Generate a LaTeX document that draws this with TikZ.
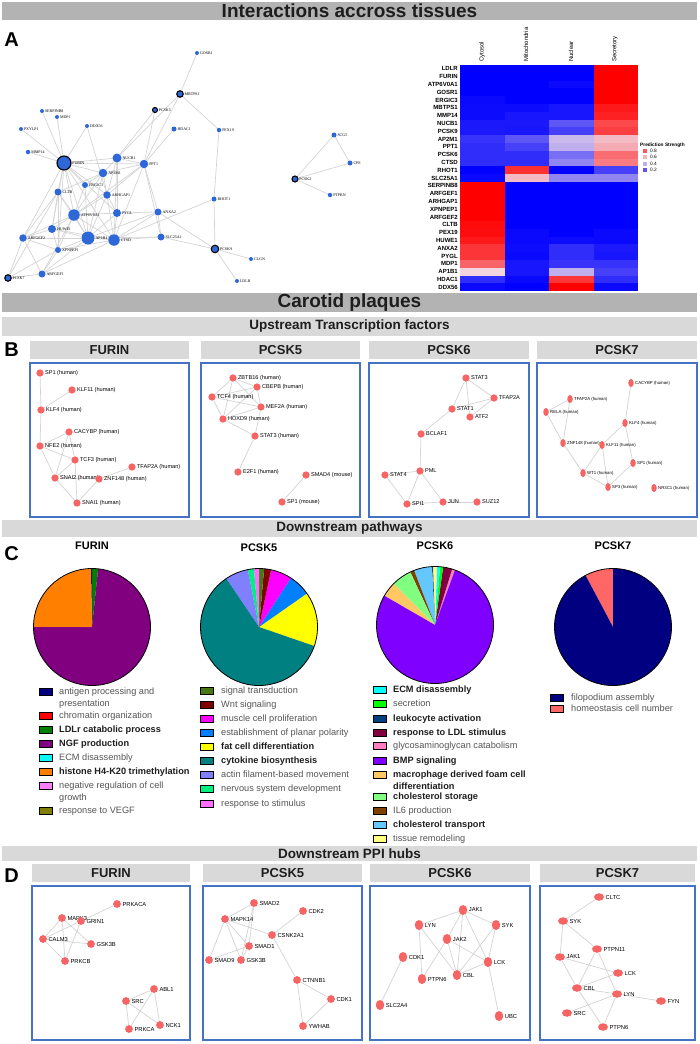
\documentclass[tikz,border=0pt]{standalone}
\usepackage{fontspec}
\setmainfont{Liberation Sans}
\newfontfamily\netserif{Liberation Serif}
\usetikzlibrary{shapes.geometric}

\pgfdeclarelayer{paper}
\pgfdeclarelayer{links}
\pgfsetlayers{paper,links,main}

\definecolor{barDark}{RGB}{179,179,179}
\definecolor{barLight}{RGB}{217,217,217}
\definecolor{titleInk}{RGB}{30,30,30}
\definecolor{boxBlue}{RGB}{68,114,196}
\definecolor{netBlue}{RGB}{46,104,214}
\definecolor{nodeRed}{RGB}{247,100,100}
\definecolor{edgeGray}{RGB}{212,212,212}
\definecolor{hmblue}{RGB}{0,0,255}
\definecolor{hmred}{RGB}{255,0,0}
\definecolor{hmmid}{RGB}{242,222,232}
\definecolor{legInk}{RGB}{85,85,85}
% pie colours
\definecolor{c1navy}{RGB}{0,0,128}
\definecolor{c1red}{RGB}{255,0,0}
\definecolor{c1green}{RGB}{0,128,0}
\definecolor{c1purple}{RGB}{128,0,128}
\definecolor{c1cyan}{RGB}{0,255,255}
\definecolor{c1orange}{RGB}{255,128,0}
\definecolor{c1violet}{RGB}{255,128,255}
\definecolor{c1olive}{RGB}{128,128,0}
\definecolor{c5sig}{RGB}{70,120,20}
\definecolor{c5wnt}{RGB}{128,0,0}
\definecolor{c5mag}{RGB}{255,0,255}
\definecolor{c5blue}{RGB}{0,128,255}
\definecolor{c5yel}{RGB}{255,255,0}
\definecolor{c5teal}{RGB}{0,128,128}
\definecolor{c5actin}{RGB}{128,128,255}
\definecolor{c5nerv}{RGB}{0,240,130}
\definecolor{c5stim}{RGB}{255,110,255}
\definecolor{c6ecm}{RGB}{0,255,255}
\definecolor{c6sec}{RGB}{0,255,0}
\definecolor{c6leuk}{RGB}{0,64,128}
\definecolor{c6ldl}{RGB}{128,0,64}
\definecolor{c6gag}{RGB}{255,128,192}
\definecolor{c6bmp}{RGB}{128,0,255}
\definecolor{c6foam}{RGB}{255,200,100}
\definecolor{c6chst}{RGB}{128,255,128}
\definecolor{c6il6}{RGB}{128,64,0}
\definecolor{c6chtr}{RGB}{100,200,255}
\definecolor{c6tis}{RGB}{255,255,128}
\definecolor{c7navy}{RGB}{0,0,128}
\definecolor{c7salmon}{RGB}{255,102,102}

\newcommand{\setfs}[1]{\fontsize{#1}{#1}\selectfont}
\newcommand{\hmshade}[1]{%
  \pgfmathtruncatemacro\hmlow{#1<0.5}%
  \ifnum\hmlow=1
    \pgfmathtruncatemacro\hmpc{200*#1}\colorlet{hmcell}{hmmid!\hmpc!hmblue}%
  \else
    \pgfmathtruncatemacro\hmpc{200*(#1-0.5)}\colorlet{hmcell}{hmred!\hmpc!hmmid}%
  \fi}

\tikzset{
  bigbar/.style={fill=barDark, inner sep=0pt, minimum width=695pt, text=titleInk, font=\bfseries\setfs{19}},
  subbar/.style={fill=barLight, inner sep=0pt, minimum width=695pt, text=titleInk, font=\bfseries\setfs{13.5}},
  panelhead/.style={fill=barLight, inner sep=0pt, minimum height=18pt, text=titleInk, font=\bfseries\setfs{13}},
  panelbox/.style={draw=boxBlue, line width=1.4pt},
  panelletter/.style={inner sep=0pt, font=\bfseries\setfs{20}},
  link/.style={draw=edgeGray, line width=0.7pt},
  anode/.style={circle, fill=netBlue, inner sep=0pt},
  ahub/.style={draw=black, line width=1.1pt},
  aplain/.style={},
  alabel/.style={inner sep=0.6pt, font=\netserif\setfs{4}},
  tfnode/.style={circle, fill=nodeRed, inner sep=0pt, minimum size=7.3pt},
  tfnarrow/.style={ellipse, fill=nodeRed, inner sep=0pt, minimum width=5.5pt, minimum height=8pt},
  tflabel/.style={inner sep=1pt, font=\setfs{5.6}},
  tfsmall/.style={inner sep=1pt, font=\setfs{4.3}},
  hubtall/.style={ellipse, fill=nodeRed, inner sep=0pt, minimum width=8.5pt, minimum height=10pt},
  hubwide/.style={ellipse, fill=nodeRed, inner sep=0pt, minimum width=10pt, minimum height=7.5pt},
  hublabel/.style={inner sep=1.2pt, font=\setfs{5.8}},
  hmrow/.style={anchor=east, inner sep=0pt, font=\bfseries\setfs{6}},
  pietitle/.style={inner sep=0pt, font=\bfseries\setfs{11}},
  pieline/.style={draw=black, line width=0.8pt},
  legsq/.style={draw=black, line width=0.6pt, minimum width=13pt, minimum height=7pt, inner sep=0pt},
  legtext/.style={anchor=north west, inner sep=0pt, align=left, text=legInk, font=\fontsize{9.2}{11.5}\selectfont},
  legn/.style={},
  legb/.style={text=titleInk, font=\bfseries\fontsize{9.2}{11.5}\selectfont}
}

\begin{document}
\begin{tikzpicture}[x=1pt,y=-1pt]
\begin{pgfonlayer}{paper}
  \fill[white] (0,0) rectangle (699,1044);
\end{pgfonlayer}
\useasboundingbox (0,0) rectangle (699,1044);

% title bars
\node[bigbar, minimum height=18pt] (barA) at (349.5,11) {Interactions accross tissues};
\node[bigbar, minimum height=19pt] (barB) at (349.5,302.5) {Carotid plaques};
\node[subbar, minimum height=19pt] (barTF) at (349.5,326.5) {Upstream Transcription factors};
\node[subbar, minimum height=17pt] (barPW) at (349.5,528.5) {Downstream pathways};
\node[subbar, minimum height=15pt] (barPPI) at (349.5,853.5) {Downstream PPI hubs};

\node[panelletter] (letA) at (11.5,39.5) {A};
\node[panelletter] (letB) at (11.5,350) {B};
\node[panelletter] (letC) at (11.5,554) {C};
\node[panelletter] (letD) at (11.5,876) {D};

% A: network
\foreach \n/\x/\y/\s/\st in {GOSR1/197/53/4/aplain, MBTPS1/180/94/6.5/ahub, PCSK5/155/110/5/ahub,
    SERPINB8/42/111/4/aplain, MDP1/57/117/4/aplain, PXYLP1/21/129/4/aplain, DDX56/87/126/4/aplain,
    HDAC1/174/129/5/aplain, PEX19/219/130/4.5/aplain, MMP14/28/152/4.5/aplain, FURIN/64/163/14/ahub,
    NUCB1/117/158/9/aplain, PPT1/144/164/8.5/aplain, AP2M1/103/173/8.5/aplain, ERGIC3/85/185/6/aplain,
    CLTB/58/192/7/aplain, ARHGAP1/107/195/7.5/aplain, RHOT1/214/199/5/aplain, ATP6V0A1/74/215/11.5/aplain,
    PYGL/117/213/8/aplain, ANXA2/158/212/7/aplain, HUWE1/52/229/8/aplain, ARFGEF2/23/238/7.5/aplain,
    AP1B1/88/238/13/aplain, CTSD/114/240/11.5/aplain, SLC25A1/161/237/7/aplain, PCSK9/215/249/7.5/ahub,
    XPNPEP1/58/250/6/aplain, CLGN/251/259/4/aplain, ARFGEF1/42/274/7/aplain, PCSK7/8/278/6.5/ahub,
    LDLR/237/281/4/aplain, SCG5/334/135/5/aplain, CPE/350/163/5/aplain, PCSK2/295/179/6/ahub,
    PTPRN/330/195/4.5/aplain}
  \node[anode, \st, minimum size=\s pt, label={[alabel]right:\n}] (\n) at (\x,\y) {};

\begin{pgfonlayer}{links}
\foreach \a/\b in {FURIN/SERPINB8, FURIN/MDP1, FURIN/PXYLP1, FURIN/MMP14, FURIN/DDX56, FURIN/NUCB1,
    FURIN/AP2M1, FURIN/ERGIC3, FURIN/CLTB, FURIN/ATP6V0A1, FURIN/HUWE1, FURIN/AP1B1, FURIN/CTSD,
    FURIN/ARFGEF2, FURIN/PPT1, FURIN/ARHGAP1, FURIN/PYGL, FURIN/XPNPEP1,
    MBTPS1/GOSR1, MBTPS1/PEX19, MBTPS1/NUCB1, MBTPS1/PPT1, PCSK5/NUCB1, PCSK5/PPT1, HDAC1/PPT1,
    PEX19/RHOT1, RHOT1/PCSK9, RHOT1/CTSD, PCSK9/CLGN, PCSK9/LDLR, PCSK9/SLC25A1, PCSK9/ANXA2,
    NUCB1/AP2M1, NUCB1/PPT1, NUCB1/ARHGAP1, NUCB1/PYGL, NUCB1/CTSD, PPT1/AP2M1, PPT1/ARHGAP1,
    PPT1/ANXA2, PPT1/SLC25A1, PPT1/CTSD, PPT1/ATP6V0A1, AP2M1/ERGIC3, AP2M1/CLTB, AP2M1/ATP6V0A1,
    AP2M1/AP1B1, AP2M1/ARHGAP1, ERGIC3/ATP6V0A1, ERGIC3/AP1B1, CLTB/ATP6V0A1, CLTB/HUWE1,
    CLTB/ARFGEF2, CLTB/AP1B1, CLTB/XPNPEP1, ARHGAP1/ATP6V0A1, ARHGAP1/PYGL, ARHGAP1/AP1B1,
    ARHGAP1/CTSD, ATP6V0A1/HUWE1, ATP6V0A1/AP1B1, ATP6V0A1/CTSD, ATP6V0A1/PYGL, ATP6V0A1/ARFGEF2,
    ATP6V0A1/XPNPEP1, ATP6V0A1/ARFGEF1, PYGL/ANXA2, PYGL/CTSD, PYGL/AP1B1, ANXA2/CTSD, ANXA2/SLC25A1,
    ANXA2/AP1B1, HUWE1/ARFGEF2, HUWE1/AP1B1, HUWE1/CTSD, HUWE1/XPNPEP1, ARFGEF2/AP1B1,
    ARFGEF2/ARFGEF1, ARFGEF2/PCSK7, ARFGEF2/XPNPEP1, AP1B1/CTSD, AP1B1/XPNPEP1, AP1B1/SLC25A1,
    AP1B1/ARFGEF1, CTSD/SLC25A1, CTSD/XPNPEP1, CTSD/ARFGEF1, XPNPEP1/ARFGEF1, XPNPEP1/PCSK7,
    PCSK7/ARFGEF1, PCSK7/CLTB, DDX56/ARHGAP1, SCG5/CPE, SCG5/PCSK2, PCSK2/CPE, PCSK2/PTPRN}
  \draw[link] (\a) -- (\b);
\end{pgfonlayer}

% A: heatmap
\foreach \t/\xc [count=\k] in {Cytosol/482, Mitochondria/526, Nuclear/571, Secretory/615}
  \node[rotate=90, anchor=west, inner sep=0pt, font=\setfs{6}] (hmc\k) at (\xc,62) {\t};
\foreach \g/\va/\vb/\vc/\vd [count=\r] in {LDLR/0/0/0/1, FURIN/0/0/0/1, ATP6V0A1/0/0/0.02/1,
    GOSR1/0/0/0/1, ERGIC3/0.02/0/0/1, MBTPS1/0.03/0.03/0.05/0.95, MMP14/0.03/0.05/0.05/0.93,
    NUCB1/0.06/0.06/0.2/0.84, PCSK9/0.06/0.05/0.15/0.86, AP2M1/0.12/0.2/0.42/0.58,
    PPT1/0.1/0.15/0.4/0.62, PCSK6/0.1/0.1/0.25/0.76, CTSD/0.1/0.1/0.3/0.72, RHOT1/0/0.9/0/0.15,
    SLC25A1/0.02/0.58/0.3/0.3, SERPINB8/1/0/0/0, ARFGEF1/1/0/0/0, ARHGAP1/1/0/0/0,
    XPNPEP1/1/0/0/0, ARFGEF2/1/0/0/0, CLTB/0.98/0/0/0, PEX19/0.97/0.02/0/0.02,
    HUWE1/0.95/0.02/0.03/0.02, ANXA2/0.88/0.03/0.1/0.06, PYGL/0.88/0.02/0.1/0.05,
    MDP1/0.78/0.05/0.12/0.12, AP1B1/0.52/0.05/0.4/0.15, HDAC1/0.1/0.02/0.88/0.1, DDX56/0.02/0/1/0.02} {
  \pgfmathsetmacro\hmy{65+7.8*(\r-1)}
  \node[hmrow] (hmr\r) at (458,\hmy+3.9) {\g};
  \foreach \v [count=\k] in {\va,\vb,\vc,\vd} {
    \pgfmathsetmacro\hmx{460+44.5*(\k-1)}
    \hmshade{\v}
    \fill[hmcell] (\hmx,\hmy) rectangle ++(44.6,7.9);
  }
}
\node[anchor=west, inner sep=0pt, font=\bfseries\setfs{4.8}] (hmkey) at (640,145) {Prediction Strength};
\foreach \v/\y [count=\i] in {0.8/151, 0.6/157, 0.4/164, 0.2/170} {
  \hmshade{\v}
  \node[fill=hmcell, minimum size=4pt, inner sep=0pt] (hmk\i) at (645,\y) {};
  \node[anchor=west, inner sep=0pt, font=\setfs{4.8}] (hmkt\i) at (650,\y) {\v};
}

% B: upstream transcription factors
\foreach \n/\l/\r in {FURIN/30/189, PCSK5/201/360, PCSK6/369/529, PCSK7/537/697} {
  \node[panelhead, minimum width=\r-\l] (hb\n) at ({(\l+\r)/2},350) {\n};
  \draw[panelbox] (\l,363) rectangle (\r,517);
}
\foreach \n/\x/\y/\t in {b1SP1/40/373/SP1 (human), b1KLF11/72/390/KLF11 (human), b1KLF4/41/410/KLF4 (human),
    b1CACYBP/69/432/CACYBP (human), b1NFE2/40/446/NFE2 (human), b1TCF3/75/460/TCF3 (human),
    b1TFAP2A/132/467/TFAP2A (human), b1SNAI2/55/478/SNAI2 (human), b1ZNF148/99/479/ZNF148 (human),
    b1SNAI1/77/503/SNAI1 (human),
    b2ZBTB16/233/378/ZBTB16 (human), b2CBEPB/257/387/CBEPB (human), b2TCF4/212/397/TCF4 (human),
    b2MEF2A/261/407/MEF2A (human), b2HOXD9/223/419/HOXD9 (human), b2STAT3/255/436/STAT3 (human),
    b2E2F1/238/472/E2F1 (human), b2SMAD4/306/475/SMAD4 (mouse), b2SP1/282/502/SP1 (mouse),
    b3STAT3/466/378/STAT3, b3TFAP2A/494/398/TFAP2A, b3STAT1/452/409/STAT1, b3ATF2/470/417/ATF2,
    b3BCLAF1/421/434/BCLAF1, b3PML/420/471/PML, b3STAT4/385/475/STAT4, b3SPI1/407/504/SPI1,
    b3JUN/443/502/JUN, b3SUZ12/477/502/SUZ12}
  \node[tfnode, label={[tflabel]right:\t}] (\n) at (\x,\y) {};
\foreach \n/\x/\y/\t in {b4CACYBP/631/383/CACYBP (human), b4TFAP2A/570/399/TFAP2A (human),
    b4RELA/546/412/RELA (human), b4KLF4/625/423/KLF4 (human), b4ZNF148/563/443/ZNF148 (human),
    b4KLF11/602/445/KLF11 (human), b4SP1/633/463/SP1 (human), b4WT1/583/473/WT1 (human),
    b4SP3/608/487/SP3 (human), b4NR3C1/654/488/NR3C1 (human)}
  \node[tfnarrow, label={[tfsmall]right:\t}] (\n) at (\x,\y) {};

\begin{pgfonlayer}{links}
\foreach \a/\b in {b1SP1/b1KLF4, b1KLF4/b1KLF11, b1KLF4/b1NFE2, b1NFE2/b1CACYBP, b1NFE2/b1SNAI2,
    b1NFE2/b1TCF3, b1CACYBP/b1SNAI2, b1CACYBP/b1TCF3, b1TCF3/b1SNAI2, b1TCF3/b1SNAI1,
    b1SNAI2/b1ZNF148, b1SNAI2/b1SNAI1, b1ZNF148/b1SNAI1, b1ZNF148/b1TFAP2A,
    b2ZBTB16/b2CBEPB, b2ZBTB16/b2TCF4, b2ZBTB16/b2MEF2A, b2ZBTB16/b2HOXD9, b2TCF4/b2CBEPB,
    b2TCF4/b2MEF2A, b2TCF4/b2HOXD9, b2CBEPB/b2MEF2A, b2CBEPB/b2HOXD9, b2MEF2A/b2HOXD9,
    b2HOXD9/b2STAT3, b2MEF2A/b2STAT3, b2STAT3/b2E2F1, b2SMAD4/b2SP1,
    b3STAT3/b3TFAP2A, b3STAT3/b3STAT1, b3STAT3/b3ATF2, b3STAT1/b3TFAP2A, b3ATF2/b3TFAP2A,
    b3STAT1/b3BCLAF1, b3BCLAF1/b3PML, b3PML/b3STAT4, b3PML/b3SPI1, b3PML/b3JUN, b3STAT4/b3SPI1,
    b3SPI1/b3JUN, b3JUN/b3SUZ12,
    b4CACYBP/b4KLF4, b4KLF4/b4KLF11, b4KLF4/b4SP1, b4KLF11/b4WT1, b4KLF11/b4SP3, b4WT1/b4SP3,
    b4SP3/b4SP1, b4ZNF148/b4WT1, b4TFAP2A/b4ZNF148, b4RELA/b4ZNF148, b4RELA/b4TFAP2A}
  \draw[link] (\a) -- (\b);
\end{pgfonlayer}

% C: downstream pathways
\node[pietitle] (tc1) at (92,546) {FURIN};
\node[pietitle] (tc2) at (259,548) {PCSK5};
\node[pietitle] (tc3) at (435,546) {PCSK6};
\node[pietitle] (tc4) at (613,546) {PCSK7};

\begin{scope}[shift={(92,627)}, yscale=-1]
  \foreach \a/\b/\c in {84/90/c1green, 90/91/c1navy, 91/180/c1orange, 180/444/c1purple}
    \fill[\c] (0,0) -- (\a:58.5) arc[start angle=\a, end angle=\b, radius=58.5] -- cycle;
  \draw[pieline] (0,0) circle[radius=58.5];
\end{scope}
\begin{scope}[shift={(259,627)}, yscale=-1]
  \foreach \a/\b/\c in {-19/35/c5yel, 35/57/c5blue, 57/78/c5mag, 78/85/c5wnt, 85/90/c5sig,
      90/95/c5stim, 95/101/c5nerv, 101/124/c5actin, 124/341/c5teal}
    \fill[\c] (0,0) -- (\a:58.5) arc[start angle=\a, end angle=\b, radius=58.5] -- cycle;
  \draw[pieline] (0,0) circle[radius=58.5];
\end{scope}
\begin{scope}[shift={(435,625)}, yscale=-1]
  \foreach \a/\b/\c in {70/73/c6gag, 73/82/c6ldl, 82/85/c6sec, 85/88/c6ecm, 88/92/c6tis,
      92/93/c6leuk, 93/111/c6chtr, 111/115/c6il6, 115/135/c6chst, 135/150/c6foam, 150/430/c6bmp}
    \fill[\c] (0,0) -- (\a:58.5) arc[start angle=\a, end angle=\b, radius=58.5] -- cycle;
  \draw[pieline] (0,0) circle[radius=58.5];
\end{scope}
\begin{scope}[shift={(613,627)}, yscale=-1]
  \foreach \a/\b/\c in {90/118/c7salmon, 118/450/c7navy}
    \fill[\c] (0,0) -- (\a:58.5) arc[start angle=\a, end angle=\b, radius=58.5] -- cycle;
  \draw[pieline] (0,0) circle[radius=58.5];
\end{scope}

% C: legends
\foreach \c/\y/\t/\w [count=\i] in {c1navy/692/{antigen processing and\\presentation}/legn,
    c1red/716/chromatin organization/legn, c1green/730/LDLr catabolic process/legb,
    c1purple/744/NGF production/legb, c1cyan/758/ECM disassembly/legn,
    c1orange/772/histone H4-K20 trimethylation/legb,
    c1violet/786/{negative regulation of cell\\growth}/legn, c1olive/811/response to VEGF/legn} {
  \node[legsq, fill=\c] (lg1s\i) at (45.5,\y) {};
  \node[legtext, \w] (lg1t\i) at (59,\y-3.9) {\t};
}
\foreach \c/\y/\t/\w [count=\i] in {c5sig/691/signal transduction/legn, c5wnt/705/Wnt signaling/legn,
    c5mag/719/muscle cell proliferation/legn, c5blue/733/establishment of planar polarity/legn,
    c5yel/747/fat cell differentiation/legb, c5teal/761/cytokine biosynthesis/legb,
    c5actin/775/actin filament-based movement/legn, c5nerv/789/nervous system development/legn,
    c5stim/804/response to stimulus/legn} {
  \node[legsq, fill=\c] (lg2s\i) at (206.5,\y) {};
  \node[legtext, \w] (lg2t\i) at (221,\y-3.9) {\t};
}
\foreach \c/\y/\t/\w [count=\i] in {c6ecm/690/ECM disassembly/legb, c6sec/704/secretion/legn,
    c6leuk/719/leukocyte activation/legb, c6ldl/733/response to LDL stimulus/legb,
    c6gag/746/glycosaminoglycan catabolism/legn, c6bmp/761/BMP signaling/legb,
    c6foam/775/{macrophage derived foam cell\\differentiation}/legb, c6chst/797/cholesterol storage/legb,
    c6il6/811/IL6 production/legn, c6chtr/825/cholesterol transport/legb,
    c6tis/839/tissue remodeling/legn} {
  \node[legsq, fill=\c] (lg3s\i) at (379.5,\y) {};
  \node[legtext, \w] (lg3t\i) at (393,\y-3.9) {\t};
}
\foreach \c/\y/\t/\w [count=\i] in {c7navy/698/filopodium assembly/legn,
    c7salmon/709/homeostasis cell number/legn} {
  \node[legsq, fill=\c] (lg4s\i) at (556.5,\y) {};
  \node[legtext, \w] (lg4t\i) at (571,\y-3.9) {\t};
}

% D: downstream PPI hubs
\foreach \n/\l/\r in {FURIN/32/190, PCSK5/203/362, PCSK6/370/530, PCSK7/540/695} {
  \node[panelhead, minimum width=\r-\l] (hd\n) at ({(\l+\r)/2},873) {\n};
  \draw[panelbox] (\l,886) rectangle (\r,1040);
}
\foreach \n/\x/\y/\t in {d1PRKACA/117/904/PRKACA, d1MAPK3/62/918/MAPK3, d1GRIN1/81/921/GRIN1,
    d1CALM3/43/939/CALM3, d1GSK3B/91/944/GSK3B, d1PRKCB/65/961/PRKCB, d1ABL1/154/989/ABL1,
    d1SRC/126/1001/SRC, d1PRKCA/129/1029/PRKCA, d1NCK1/160/1025/NCK1,
    d2SMAD2/254/903/SMAD2, d2CDK2/303/911/CDK2, d2MAPK14/225/919/MAPK14, d2CSNK2A1/272/935/CSNK2A1,
    d2SMAD1/249/946/SMAD1, d2SMAD9/209/960/SMAD9, d2GSK3B/241/960/GSK3B, d2CTNNB1/297/980/CTNNB1,
    d2CDK1/331/999/CDK1, d2YWHAB/303/1026/YWHAB}
  \node[tfnode, minimum size=7.8pt, label={[hublabel]right:\t}] (\n) at (\x,\y) {};
\foreach \n/\x/\y/\t in {d3JAK1/463/910/JAK1, d3LYN/419/925/LYN, d3SYK/496/925/SYK,
    d3JAK2/447/939/JAK2, d3CDK1/403/957/CDK1, d3LCK/488/962/LCK, d3CBL/457/975/CBL,
    d3PTPN6/422/979/PTPN6, d3SLC2A4/380/1005/SLC2A4, d3UBC/499/1016/UBC}
  \node[hubtall, label={[hublabel]right:\t}] (\n) at (\x,\y) {};
\foreach \n/\x/\y/\t in {d4CLTC/599/897/CLTC, d4SYK/563/921/SYK, d4PTPN11/597/949/PTPN11,
    d4JAK1/560/957/JAK1, d4LCK/618/973/LCK, d4CBL/577/988/CBL, d4LYN/617/994/LYN,
    d4FYN/661/1001/FYN, d4SRC/567/1013/SRC, d4PTPN6/603/1027/PTPN6}
  \node[hubwide, label={[hublabel]right:\t}] (\n) at (\x,\y) {};

\begin{pgfonlayer}{links}
\foreach \a/\b in {d1PRKACA/d1GRIN1, d1MAPK3/d1CALM3, d1MAPK3/d1PRKCB, d1MAPK3/d1GSK3B,
    d1GRIN1/d1CALM3, d1GRIN1/d1PRKCB, d1CALM3/d1GSK3B, d1CALM3/d1PRKCB, d1ABL1/d1SRC,
    d1ABL1/d1PRKCA, d1ABL1/d1NCK1, d1SRC/d1NCK1, d1SRC/d1PRKCA,
    d2SMAD2/d2MAPK14, d2SMAD2/d2SMAD1, d2SMAD2/d2GSK3B, d2MAPK14/d2SMAD1, d2MAPK14/d2SMAD9,
    d2MAPK14/d2GSK3B, d2MAPK14/d2CSNK2A1, d2SMAD1/d2SMAD9, d2SMAD1/d2GSK3B, d2CSNK2A1/d2CDK2,
    d2CSNK2A1/d2CTNNB1, d2CTNNB1/d2CDK1, d2CTNNB1/d2YWHAB, d2CDK1/d2YWHAB,
    d3LYN/d3JAK1, d3JAK1/d3SYK, d3JAK1/d3JAK2, d3JAK1/d3CBL, d3JAK1/d3LCK, d3LYN/d3PTPN6,
    d3LYN/d3CBL, d3JAK2/d3PTPN6, d3JAK2/d3CBL, d3JAK2/d3LCK, d3SYK/d3CBL, d3SYK/d3LCK,
    d3CBL/d3LCK, d3CDK1/d3SLC2A4, d3LCK/d3UBC,
    d4CLTC/d4SYK, d4SYK/d4JAK1, d4SYK/d4PTPN11, d4JAK1/d4CBL, d4JAK1/d4LCK, d4PTPN11/d4CBL,
    d4PTPN11/d4LYN, d4LCK/d4CBL, d4CBL/d4LYN, d4CBL/d4PTPN6, d4LYN/d4FYN, d4LYN/d4PTPN6,
    d4SRC/d4LYN}
  \draw[link] (\a) -- (\b);
\end{pgfonlayer}
\end{tikzpicture}
\end{document}
